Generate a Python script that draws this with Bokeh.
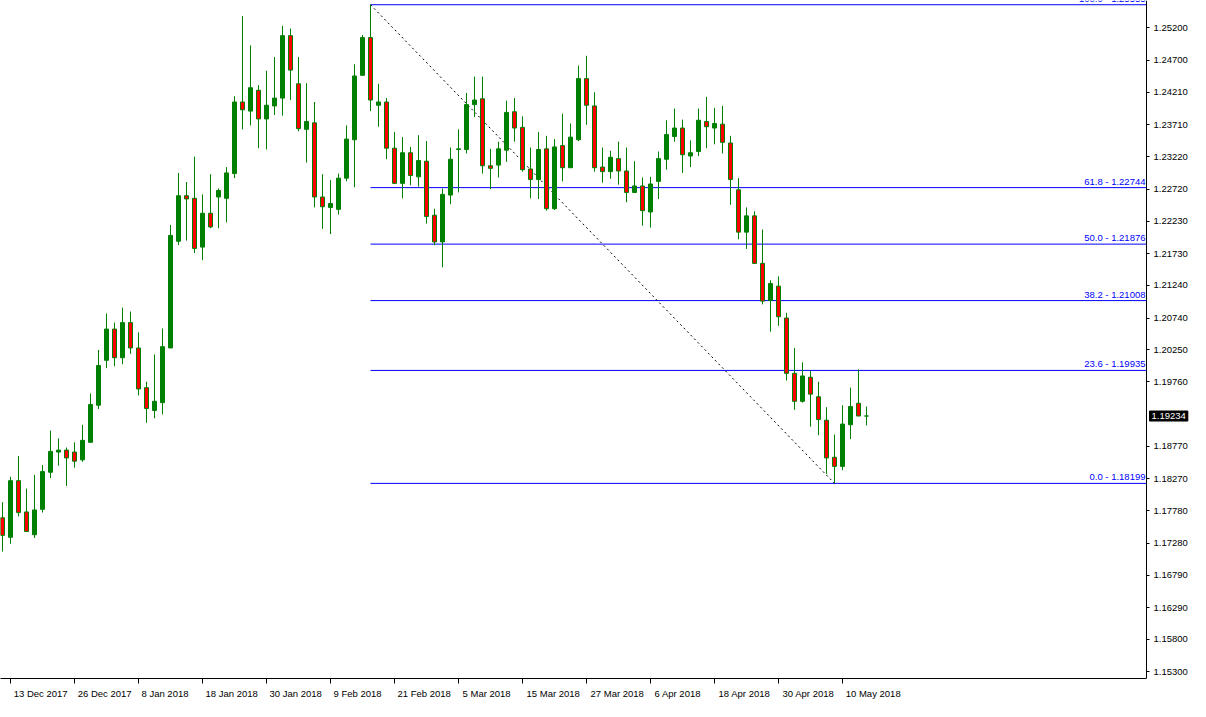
from bokeh.plotting import figure
from bokeh.models import Range1d, FixedTicker, PrintfTickFormatter, Label
from bokeh.embed import file_html
from bokeh.resources import INLINE
from bokeh.core.properties import value

# ---------------- data (EUR/USD daily, 12 Dec 2017 - 15 May 2018) ----------------
opens = [1.1767, 1.1737, 1.1824, 1.1776, 1.1741, 1.1780, 1.1837, 1.1868, 1.1871, 1.1868,
         1.1856, 1.1883, 1.1940, 1.2009, 1.2057, 1.2013, 1.2067, 1.2028, 1.1967, 1.1932,
         1.1944, 1.2028, 1.2192, 1.2262, 1.2258, 1.2183, 1.2235, 1.2260, 1.2258, 1.2296,
         1.2406, 1.2392, 1.2424, 1.2380, 1.2400, 1.2412, 1.2508, 1.2434, 1.2364, 1.2374,
         1.2260, 1.2244, 1.2241, 1.2289, 1.2348, 1.2447, 1.2505, 1.2401, 1.2406, 1.2335,
         1.2281, 1.2328, 1.2291, 1.2315, 1.2232, 1.2191, 1.2263, 1.2333, 1.2333, 1.2402,
         1.2411, 1.2308, 1.2309, 1.2332, 1.2391, 1.2367, 1.2303, 1.2287, 1.2334, 1.2242,
         1.2339, 1.2305, 1.2348, 1.2442, 1.2400, 1.2306, 1.2299, 1.2319, 1.2300, 1.2267,
         1.2277, 1.2237, 1.2284, 1.2318, 1.2353, 1.2366, 1.2323, 1.2330, 1.2376, 1.2366,
         1.2372, 1.2343, 1.2271, 1.2206, 1.2231, 1.2158, 1.2101, 1.2123, 1.2074, 1.1989,
         1.1946, 1.1983, 1.1953, 1.1917, 1.1860, 1.1846, 1.1910, 1.1943, 1.19234]
highs = [1.1791, 1.1830, 1.1862, 1.1812, 1.1833, 1.1848, 1.1901, 1.1889, 1.1875, 1.1883,
         1.1910, 1.1958, 1.2025, 1.2081, 1.2067, 1.2090, 1.2084, 1.2052, 1.1976, 1.2018,
         1.2058, 1.2217, 1.2297, 1.2283, 1.2322, 1.2264, 1.2295, 1.2273, 1.2306, 1.2415,
         1.2538, 1.2493, 1.2432, 1.2454, 1.2475, 1.2523, 1.2519, 1.2475, 1.2435, 1.2406,
         1.2295, 1.2286, 1.2296, 1.2370, 1.2464, 1.2509, 1.25555, 1.2434, 1.2412, 1.2360,
         1.2352, 1.2337, 1.2355, 1.2346, 1.2242, 1.2273, 1.2336, 1.2364, 1.2420, 1.2445,
         1.2445, 1.2334, 1.2345, 1.2408, 1.2412, 1.2384, 1.2336, 1.2360, 1.2354, 1.2349,
         1.2388, 1.2373, 1.2462, 1.2477, 1.2421, 1.2336, 1.2331, 1.2345, 1.2336, 1.2315,
         1.2290, 1.2291, 1.2330, 1.2378, 1.2396, 1.2379, 1.2347, 1.2396, 1.2414, 1.2397,
         1.2400, 1.2354, 1.2289, 1.2244, 1.2238, 1.2210, 1.2132, 1.2138, 1.2082, 1.2028,
         1.2006, 1.1993, 1.1976, 1.1937, 1.1895, 1.1940, 1.1967, 1.1995, 1.1938]
lows = [1.1715, 1.1727, 1.1769, 1.1745, 1.1736, 1.1775, 1.1828, 1.1847, 1.1816, 1.1844,
        1.1853, 1.1883, 1.1934, 1.1997, 1.2000, 1.2003, 1.2019, 1.1955, 1.1913, 1.1920,
        1.1926, 1.2028, 1.2186, 1.2193, 1.2174, 1.2163, 1.2212, 1.2212, 1.2221, 1.2289,
        1.2364, 1.2370, 1.2335, 1.2333, 1.2386, 1.2385, 1.2409, 1.2361, 1.2313, 1.2244,
        1.2211, 1.2203, 1.2233, 1.2284, 1.2275, 1.2447, 1.2392, 1.2368, 1.2318, 1.2280,
        1.2258, 1.2278, 1.2276, 1.2219, 1.2186, 1.2152, 1.2249, 1.2267, 1.2327, 1.2383,
        1.2296, 1.2272, 1.2290, 1.2314, 1.2345, 1.2299, 1.2258, 1.2257, 1.2239, 1.2240,
        1.2284, 1.2305, 1.2346, 1.2371, 1.2299, 1.2282, 1.2288, 1.2279, 1.2252, 1.2267,
        1.2216, 1.2213, 1.2257, 1.2302, 1.2345, 1.2297, 1.2306, 1.2323, 1.2335, 1.2341,
        1.2327, 1.2248, 1.2195, 1.2180, 1.2157, 1.2095, 1.2053, 1.2062, 1.1978, 1.1933,
        1.1944, 1.1907, 1.1894, 1.1834, 1.18199, 1.1840, 1.1888, 1.19234, 1.1909]
closes = [1.1740, 1.1824, 1.1775, 1.1746, 1.1779, 1.1838, 1.1869, 1.1871, 1.1859, 1.1854,
          1.1886, 1.1941, 1.2001, 1.2057, 1.2013, 1.2067, 1.2028, 1.1965, 1.1935, 1.1946,
          1.2030, 1.2201, 1.2262, 1.2257, 1.2181, 1.2235, 1.2214, 1.2270, 1.2297, 1.2406,
          1.2394, 1.2428, 1.2380, 1.2401, 1.2412, 1.2508, 1.2455, 1.2365, 1.2376, 1.2260,
          1.2245, 1.2250, 1.2289, 1.2349, 1.2446, 1.2505, 1.2409, 1.2406, 1.2335, 1.2281,
          1.2328, 1.2293, 1.2316, 1.2230, 1.2191, 1.2264, 1.2318, 1.2334, 1.2402, 1.2409,
          1.2308, 1.2304, 1.2334, 1.2390, 1.2366, 1.2302, 1.2287, 1.2333, 1.2242, 1.2337,
          1.2305, 1.2352, 1.2442, 1.2401, 1.2305, 1.2299, 1.2321, 1.2300, 1.2267, 1.2277,
          1.2239, 1.2280, 1.2319, 1.2356, 1.2366, 1.2325, 1.2328, 1.2378, 1.2368, 1.2373,
          1.2344, 1.2287, 1.2206, 1.2231, 1.2158, 1.2100, 1.2127, 1.2076, 1.1989, 1.1946,
          1.1985, 1.1957, 1.1918, 1.1859, 1.1846, 1.1911, 1.1938, 1.19234, 1.19234]

date_labels = ["13 Dec 2017", "26 Dec 2017", "8 Jan 2018", "18 Jan 2018", "30 Jan 2018",
               "9 Feb 2018", "21 Feb 2018", "5 Mar 2018", "15 Mar 2018", "27 Mar 2018",
               "6 Apr 2018", "18 Apr 2018", "30 Apr 2018", "10 May 2018"]
date_bar_idx = [1, 9, 17, 25, 33, 41, 49, 57, 65, 73, 81, 89, 97, 105]

price_ticks = [1.25200, 1.24700, 1.24210, 1.23710, 1.23220, 1.22720, 1.22230, 1.21730,
               1.21240, 1.20740, 1.20250, 1.19760, 1.18770, 1.18270, 1.17780, 1.17280,
               1.16790, 1.16290, 1.15800, 1.15300]

fib_levels = [0.0, 23.6, 38.2, 50.0, 61.8, 100.0]
fib_prices = [1.18199, 1.19935, 1.21008, 1.21876, 1.22744, 1.25555]
current_price = 1.19234

# ---------------- layout constants ----------------
W, H = 1190, 701
BOTTOM_PANEL = 18
AXIS_PX = 1146                    # screen position of the price axis inside the frame
BAR_PX = 8.0
x_start = -2.0 / BAR_PX
x_end = x_start + W / BAR_PX
x_axis_pos = x_start + AXIS_PX / BAR_PX
y_lo, y_hi = 1.1520, 1.2562

FONT = "Liberation Sans"
FSIZE = "9.5px"
GREEN, RED, BLUE = "#008000", "#ff0000", "#0000ff"

p = figure(width=W, height=H, output_backend="svg", toolbar_location=None, title=None,
           x_range=Range1d(x_start, x_end), y_range=Range1d(y_lo, y_hi),
           y_axis_location="right", min_border_left=0, min_border_top=0,
           min_border_right=0, min_border_bottom=BOTTOM_PANEL)
p.outline_line_color = None
p.grid.visible = False
p.background_fill_color = "white"
p.border_fill_color = "white"

n = len(opens)
xs = list(range(n))

# Fibonacci tool: from the swing high to the following swing low
hi_idx = highs.index(max(highs))
lo_idx = hi_idx + lows[hi_idx:].index(min(lows[hi_idx:]))
p.segment(x0=[hi_idx] * len(fib_prices), y0=fib_prices, x1=[x_axis_pos] * len(fib_prices),
          y1=fib_prices, line_color=BLUE, line_width=1)
p.text(x=[x_axis_pos] * len(fib_prices), y=fib_prices,
       text=[f"{lv:.1f} - {pr:.5f}" for lv, pr in zip(fib_levels, fib_prices)],
       text_align="right", text_baseline="bottom", x_offset=-1, y_offset=-1,
       text_font=value(FONT), text_font_size=FSIZE, text_color=BLUE)

# trend line of the fib tool
p.line(x=[hi_idx, lo_idx], y=[highs[hi_idx], lows[lo_idx]], line_color="black", line_width=1,
       line_dash="2 3")

# candles
p.segment(x0=xs, y0=lows, x1=xs, y1=highs, line_color=GREEN, line_width=1)
tops = [max(o, c) for o, c in zip(opens, closes)]
bots = [min(o, c) for o, c in zip(opens, closes)]
fills = [GREEN if c >= o else RED for o, c in zip(opens, closes)]
p.vbar(x=xs, top=tops, bottom=bots, width=4.0 / BAR_PX, fill_color=fills,
       line_color=GREEN, line_width=1)

# price axis, drawn at a fixed position inside the frame
ya = p.yaxis[0]
ya.fixed_location = x_axis_pos
ya.ticker = FixedTicker(ticks=price_ticks)
ya.formatter = PrintfTickFormatter(format="%.5f")
ya.major_tick_in = 0
ya.major_tick_out = 3
ya.minor_tick_line_color = None
ya.major_label_standoff = 4
ya.major_label_text_font = FONT
ya.major_label_text_font_size = FSIZE
ya.major_label_text_color = "black"
ya.axis_line_color = "black"
ya.major_tick_line_color = "black"

# time axis (bottom): tick marks at bars, labels drawn to the right of the tick
char_w = {" ": 0.278, "D": 0.722, "J": 0.5, "F": 0.611, "M": 0.833, "A": 0.667}
def text_w(s, px=9.5):
    return sum(char_w.get(ch, 0.556 if (ch.isdigit() or ch.islower()) else 0.6) for ch in s) * px

centers = [round(i + (3 + text_w(s) / 2) / BAR_PX, 4) for i, s in zip(date_bar_idx, date_labels)]
xa = p.xaxis[0]
xa.bounds = (x_start, x_axis_pos)
xa.ticker = FixedTicker(ticks=centers, minor_ticks=date_bar_idx)
xa.major_label_overrides = {c: s for c, s in zip(centers, date_labels)}
xa.major_tick_line_color = None
xa.major_tick_in = 0
xa.major_tick_out = 0
xa.minor_tick_in = 0
xa.minor_tick_out = 5
xa.minor_tick_line_color = "black"
xa.major_label_standoff = 4
xa.major_label_text_font = FONT
xa.major_label_text_font_size = FSIZE
xa.major_label_text_color = "black"
xa.axis_line_color = "black"

# current price marker on the price axis
p.add_layout(Label(x=x_axis_pos, y=current_price, x_offset=3, text=f"{current_price:.5f}",
                   text_font=FONT, text_font_size=FSIZE, text_color="white",
                   text_baseline="middle", text_align="left", padding=2,
                   background_fill_color="black", border_line_color="black"))

open("out.html", "w").write(file_html(p, INLINE))
